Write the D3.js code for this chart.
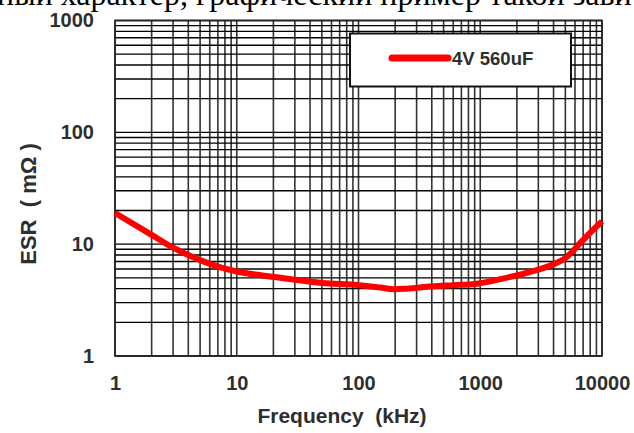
<!DOCTYPE html>
<html>
<head>
<meta charset="utf-8">
<script src="https://cdn.jsdelivr.net/npm/d3@7"></script>
<style>
  html, body { margin: 0; padding: 0; background: #fff; }
  svg { display: block; }
  text { white-space: pre; }
</style>
</head>
<body>
<svg id="chart" width="634" height="433"></svg>
<script>
// ---- data ----
const freqKHz = [1, 2, 3, 5, 7, 10, 20, 30, 50, 100, 150, 200, 250, 400, 600, 900, 1500, 2500, 4000, 5000, 6600, 8200, 10000];
const esrMilliOhm = [19, 12.1, 9.3, 7.2, 6.3, 5.7, 5.1, 4.8, 4.5, 4.3, 4.1, 3.95, 4.0, 4.2, 4.3, 4.4, 4.9, 5.6, 6.6, 7.5, 10.2, 13, 16];
const seriesName = "4V 560uF";
const xTickValues = [1, 10, 100, 1000, 10000];
const yTickValues = [1, 10, 100, 1000];
const gridMultipliers = [1, 2, 3, 4, 5, 6, 7, 8, 9];
const xLabel = "Frequency  (kHz)";
const yLabel = "ESR  ( mΩ )";
const topText = "ный характер, графический пример такой зави";

// ---- layout ----
const svg = d3.select("#chart");
const plotLeft = 115, plotRight = 602, plotTop = 20.5, plotBottom = 356;
const x = d3.scaleLog().domain([1, 10000]).range([plotLeft, plotRight]);
const y = d3.scaleLog().domain([1, 1000]).range([plotBottom, plotTop]);
const font = "'Liberation Sans', Arial, sans-serif";
const textFill = "#2e2e2e";

// cut-off document text at top
svg.append("text")
  .attr("x", -3).attr("y", 5)
  .attr("font-family", "'Liberation Serif', 'Times New Roman', serif")
  .attr("font-size", 32)
  .attr("fill", "#000")
  .text(topText);

// grid
const xGrid = [];
xTickValues.slice(0, -1).forEach(d => gridMultipliers.forEach(m => xGrid.push(d * m)));
xGrid.push(xTickValues[xTickValues.length - 1]);
const yGrid = [];
yTickValues.slice(0, -1).forEach(d => gridMultipliers.forEach(m => yGrid.push(d * m)));
yGrid.push(yTickValues[yTickValues.length - 1]);

const g = svg.append("g");
g.selectAll("line.vg").data(xGrid).join("line")
  .attr("class", "vg")
  .attr("x1", d => x(d)).attr("x2", d => x(d))
  .attr("y1", plotTop).attr("y2", plotBottom)
  .attr("stroke", "#333").attr("stroke-width", 1.6);
g.selectAll("line.hg").data(yGrid).join("line")
  .attr("class", "hg")
  .attr("x1", plotLeft).attr("x2", plotRight)
  .attr("y1", d => y(d)).attr("y2", d => y(d))
  .attr("stroke", "#000").attr("stroke-width", 1.4);

// frame
svg.append("rect")
  .attr("x", plotLeft).attr("y", plotTop)
  .attr("width", plotRight - plotLeft).attr("height", plotBottom - plotTop)
  .attr("fill", "none").attr("stroke", "#222").attr("stroke-width", 1.6);

// axes (labels only)
const xAxis = svg.append("g")
  .attr("transform", `translate(0,${plotBottom})`)
  .call(d3.axisBottom(x).tickValues(xTickValues).tickFormat(d3.format("d")).tickSize(0).tickPadding(20));
xAxis.select(".domain").remove();
xAxis.selectAll("text")
  .attr("font-family", font).attr("font-size", 20).attr("font-weight", "bold").attr("fill", textFill);

const yAxis = svg.append("g")
  .attr("transform", `translate(${plotLeft},0)`)
  .call(d3.axisLeft(y).tickValues(yTickValues).tickFormat(d3.format("d")).tickSize(0).tickPadding(21));
yAxis.select(".domain").remove();
yAxis.selectAll("text")
  .attr("font-family", font).attr("font-size", 20).attr("font-weight", "bold").attr("fill", textFill);

// axis titles
svg.append("text")
  .attr("x", 342).attr("y", 423)
  .attr("text-anchor", "middle")
  .attr("font-family", font).attr("font-size", 21).attr("font-weight", "bold").attr("fill", textFill)
  .text(xLabel);
svg.append("text")
  .attr("transform", "translate(36,204) rotate(-90)")
  .attr("text-anchor", "middle")
  .attr("font-family", font).attr("font-size", 22).attr("font-weight", "bold").attr("fill", textFill)
  .text(yLabel);

// series line
const data = freqKHz.map((f, i) => ({ f, v: esrMilliOhm[i] }));
const line = d3.line().x(d => x(d.f)).y(d => y(d.v)).curve(d3.curveMonotoneX);
svg.append("path")
  .datum(data)
  .attr("d", line)
  .attr("fill", "none")
  .attr("stroke", "#ff0000")
  .attr("stroke-width", 6)
  .attr("stroke-linecap", "butt")
  .attr("stroke-linejoin", "round");

// legend
const lg = svg.append("g");
lg.append("rect")
  .attr("x", 350).attr("y", 33.5).attr("width", 221).attr("height", 53)
  .attr("fill", "#fff").attr("stroke", "#111").attr("stroke-width", 2);
lg.append("line")
  .attr("x1", 392).attr("x2", 448).attr("y1", 58).attr("y2", 58)
  .attr("stroke", "#ff0000").attr("stroke-width", 7).attr("stroke-linecap", "round");
lg.append("text")
  .attr("x", 452).attr("y", 58)
  .attr("dominant-baseline", "central")
  .attr("font-family", font).attr("font-size", 18.5).attr("font-weight", "bold").attr("fill", textFill)
  .text(seriesName);
</script>
</body>
</html>
